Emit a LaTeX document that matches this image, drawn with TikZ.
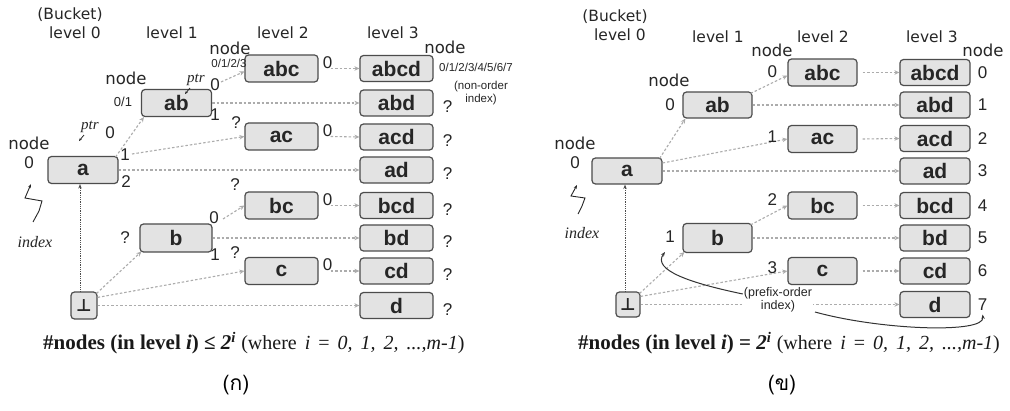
\documentclass[tikz,border=0pt]{standalone}
\usepackage{fontspec}
\setmainfont{Liberation Sans}
\newfontfamily\dv{DejaVu Sans}
\newfontfamily\srf{Liberation Serif}
\newfontfamily\thai[Script=Thai]{Loma}
\usetikzlibrary{arrows.meta,calc}
\tikzset{
  bx/.style={draw=black!70, line width=1.2pt, fill=gray!22, rounded corners=3.5pt, inner sep=0pt,
    font=\bfseries\fontsize{21}{21}\selectfont, text=black!85},
  lone/.style={bx, minimum width=70pt, minimum height=27pt},
  ltwo/.style={bx, minimum width=73pt, minimum height=27pt},
  lthree/.style={bx, minimum width=73pt, minimum height=26pt},
  rtwo/.style={bx, minimum width=69pt, minimum height=27pt},
  rthree/.style={bx, minimum width=70pt, minimum height=26pt},
  botbox/.style={bx, minimum width=26pt, minimum height=27pt, font=\dv\bfseries\fontsize{17}{17}\selectfont},
  lvl/.style={inner sep=0pt, font=\dv\fontsize{15.5}{16}\selectfont, text=black!85},
  ndl/.style={inner sep=0pt, font=\dv\fontsize{16.5}{17}\selectfont, text=black!85},
  num/.style={inner sep=0pt, font=\fontsize{17}{17}\selectfont, text=black!85},
  sml/.style={inner sep=0pt, font=\fontsize{11.5}{13}\selectfont, text=black!85},
  ptrl/.style={inner sep=0pt, font=\srf\itshape\fontsize{15}{15}\selectfont, text=black!85},
  arr/.style={draw=gray!65, line width=1.1pt, dash pattern=on 2.5pt off 2pt, -{Stealth[length=5pt,width=4.5pt]}},
  vline/.style={draw=gray!60!black, line width=0.8pt, densely dotted, -{Stealth[length=4.5pt,width=3.5pt]}},
  curv/.style={draw=black!80, line width=1pt, -{Stealth[length=4.5pt,width=3.5pt]}},
  formb/.style={inner sep=0pt, anchor=west, text=black!90},
}
\newcommand{\wsp}{\hspace{8pt}}
\newcommand{\wherepart}{{\mdseries\fontsize{20}{20}\selectfont (where\wsp\textit{i}\wsp=\wsp\textit{0,}\wsp\textit{1,}\wsp\textit{2,}\wsp\textit{...,m-1})}}
\begin{document}
\begin{tikzpicture}[x=1pt,y=1pt]
\useasboundingbox[fill=white] (0,0) rectangle (1010,410);

% ================= LEFT =================
\node[lone] (A-a) at (83,240) {a};
\node[lone] (A-ab) at (176.5,307) {ab};
\node[bx, minimum width=72pt, minimum height=28pt] (A-b) at (176,172) {b};
\node[botbox] (A-bot) at (84,104.5) {⊥};
\foreach \n/\y in {abc/341.5, ac/273.5, bc/204.5, c/139}
  \node[ltwo] (A-\n) at (281.5,\y) {\n};
\foreach \n/\y in {abcd/341.5, abd/307, acd/273, ad/240, bcd/204.5, bd/172, cd/139, d/104.5}
  \node[lthree] (A-\n) at (396.5,\y) {\n};

% connectors
\draw[vline] ([xshift=-4pt]A-bot.north) -- ([xshift=-4pt]A-bot.north |- A-a.south);
\draw[arr] ([xshift=-3pt,yshift=-1pt]A-a.north east) -- ([xshift=3pt]A-ab.south west);
\coordinate (A-s1) at (132,256);
\draw[arr] (A-s1) -- (A-ac.west);
\draw[arr] (A-a.east) -- (A-ad.west);
\coordinate (A-s2) at (221,328);
\draw[arr] (A-s2) -- ([yshift=-3pt]A-abc.west);
\draw[arr] (A-ab.east) -- (A-abd.west);
\coordinate (A-s3) at (223,191);
\draw[arr] (A-s3) -- (A-bc.west);
\draw[arr] (A-b.east) -- (A-bd.west);
\draw[arr] ([xshift=-1pt,yshift=-2pt]A-bot.north east) -- ([xshift=2pt,yshift=1pt]A-b.south west);
\draw[arr] ([yshift=-6pt]A-bot.north east) -- (A-c.west);
\draw[arr] (A-bot.east) -- (A-d.west);
\foreach \n/\m in {abc/abcd, ac/acd, bc/bcd, c/cd}
  \draw[arr] ([xshift=12pt]A-\n.east) -- (A-\m.west);

% labels
\node[lvl] (A-bk) at (70,395) {(Bucket)};
\node[lvl] (A-l0) at (75,377) {level 0};
\node[lvl] (A-l1) at (172,377) {level 1};
\node[lvl] (A-l2) at (283,377) {level 2};
\node[lvl] (A-l3) at (393,377) {level 3};
\node[ndl] (A-n0) at (29,267) {node};
\node[num] (A-n0v) at (29,247) {0};
\node[ndl] (A-n1) at (126,332) {node};
\node[sml, font=\fontsize{13}{13}\selectfont] (A-n1v) at (123,308) {0/1};
\node[ndl] (A-n2) at (230,362) {node};
\node[sml] (A-n2v) at (229,347) {0/1/2/3};
\node[ndl] (A-n3) at (445,363) {node};
\node[sml] (A-n3v) at (476,343) {0/1/2/3/4/5/6/7};
\node[sml, align=center] (A-noi) at (481,317) {(non-order\\index)};
\node[ptrl] (A-p1) at (196,330) {ptr};
\node[num] (A-p1z) at (215,325) {0};
\node[num] (A-p1o) at (215,295) {1};
\draw[black!85, line width=0.8pt, -{Stealth[length=3pt,width=2.5pt]}] ([xshift=-6pt,yshift=-2pt]A-p1.south) -- ++(-5,-6);
\node[ptrl] (A-p2) at (90,283) {ptr};
\node[num] (A-p2z) at (110,277) {0};
\draw[black!85, line width=0.8pt, -{Stealth[length=3pt,width=2.5pt]}] ([xshift=-6pt,yshift=-2pt]A-p2.south) -- ++(-5,-6);
\node[num] (A-a1) at (125,255) {1};
\node[num] (A-a2) at (126,228) {2};
\node[num] (A-b0) at (214,192) {0};
\node[num] (A-b1) at (215,155) {1};
\node[num] (A-bq) at (125,172) {?};
\node[num] (A-acq) at (236,287) {?};
\node[num] (A-bcq) at (235,225) {?};
\node[num] (A-cq) at (235,157) {?};
\foreach \n in {abc,ac,bc,c}
  \node[num] (A-z\n) at ([xshift=9pt,yshift=6pt]A-\n.east) {0};
\foreach \n in {abd,acd,ad,bcd,bd,cd,d}
  \node[num] (A-q\n) at ([xshift=14pt,yshift=-4pt]A-\n.east) {?};
\node[ptrl, font=\srf\itshape\fontsize{16}{16}\selectfont] (A-idx) at (35,168) {index};
\coordinate (A-i0) at (33,188);
\coordinate (A-i1) at (31,226);
\draw[black!85, line width=0.9pt, -{Stealth[length=4pt,width=3pt]}] (A-i0) -- (39,199) -- (42,209) -- (25,212) -- (A-i1);
\node[formb] (A-f) at (43,67) {\srf\bfseries\fontsize{21}{21}\selectfont \#nodes (in level \textit{i}) ≤ \textit{2\textsuperscript{i}}\ \wherepart};
\node[inner sep=0pt] (A-cap) at (236,25) {\thai\fontsize{21}{21}\selectfont (ก)};

% ================= RIGHT =================
\node[lone, minimum width=70pt, minimum height=26pt] (B-a) at (627,239) {a};
\node[lone, minimum width=69pt, minimum height=26pt] (B-ab) at (717.5,305) {ab};
\node[bx, minimum width=69pt, minimum height=29pt] (B-b) at (717.5,172) {b};
\node[botbox, minimum width=24pt, minimum height=25pt] (B-bot) at (628,105.5) {⊥};
\foreach \n/\y in {abc/337.5, ac/271, bc/204.5, c/139}
  \node[rtwo] (B-\n) at (822.5,\y) {\n};
\foreach \n/\y in {abcd/337.5, abd/305, acd/271.5, ad/239, bcd/204.5, bd/172, cd/139, d/105.5}
  \node[rthree] (B-\n) at (935,\y) {\n};

\draw[vline] ([xshift=-3pt]B-bot.north) -- ([xshift=-3pt]B-bot.north |- B-a.south);
\draw[arr] ([xshift=-3pt,yshift=-1pt]B-a.north east) -- ([xshift=3pt]B-ab.south west);
\draw[arr] ([yshift=8pt]B-a.east) -- (B-ac.west);
\draw[arr] (B-a.east) -- (B-ad.west);
\draw[arr] ([xshift=-2pt,yshift=-2pt]B-ab.north east) -- ([yshift=-3pt]B-abc.west);
\draw[arr] (B-ab.east) -- (B-abd.west);
\draw[arr] ([xshift=-2pt,yshift=-2pt]B-b.north east) -- (B-bc.west);
\draw[arr] (B-b.east) -- (B-bd.west);
\draw[arr] ([xshift=-1pt,yshift=-2pt]B-bot.north east) -- ([xshift=2pt,yshift=1pt]B-b.south west);
\draw[arr] ([yshift=-5pt]B-bot.north east) -- (B-c.west);
\draw[arr] (B-bot.east) -- (B-d.west);
\foreach \n/\m in {abc/abcd, ac/acd, bc/bcd, c/cd}
  \draw[arr] ([xshift=5pt]B-\n.east) -- (B-\m.west);

\node[lvl] (B-bk) at (615,393) {(Bucket)};
\node[lvl] (B-l0) at (620,375) {level 0};
\node[lvl] (B-l1) at (718,373) {level 1};
\node[lvl] (B-l2) at (823,373) {level 2};
\node[lvl] (B-l3) at (932,373) {level 3};
\node[ndl] (B-n0) at (575,267) {node};
\node[num] (B-n0v) at (575,247) {0};
\node[ndl] (B-n1) at (669,330) {node};
\node[num] (B-n1v) at (670,305) {0};
\node[num] (B-bv) at (670,173) {1};
\node[ndl] (B-n2) at (772,360) {node};
\node[ndl] (B-n3) at (983,360) {node};
\foreach \n/\k/\dy in {abc/0/1, ac/1/2, bc/2/6, c/3/3}
  \node[num] (B-k\n) at ([xshift=-15pt,yshift=\dy pt]B-\n.west) {\k};
\foreach \n/\k in {abcd/0, abd/1, acd/2, ad/3, bcd/4, bd/5, cd/6, d/7}
  \node[num] (B-r\n) at ([xshift=12pt]B-\n.east) {\k};
\node[ptrl, font=\srf\itshape\fontsize{16}{16}\selectfont] (B-idx) at (582,177) {index};
\coordinate (B-i0) at (578,196);
\coordinate (B-i1) at (577,225);
\draw[black!85, line width=0.9pt, -{Stealth[length=4pt,width=3pt]}] (B-i0) -- (582,204) -- (585,212) -- (571,214) -- (B-i1);
\node[sml, fill=white, align=center, inner sep=1pt, font=\fontsize{12.5}{13}\selectfont] (B-po) at (778,110) {(prefix-order\\index)};
\coordinate (B-c1) at (665,158);
\draw[curv] ([yshift=6pt]B-po.west) .. controls (690,127) and (652,140) .. (B-c1);
\coordinate (B-c2s) at (815,98);
\coordinate (B-c2) at ([yshift=-4pt]B-rd.south);
\draw[curv] (B-c2s) .. controls (880,80) and (985,76) .. (B-c2);
\node[formb] (B-f) at (578,67) {\srf\bfseries\fontsize{21}{21}\selectfont \#nodes (in level \textit{i}) = \textit{2\textsuperscript{i}}\ \wherepart};
\node[inner sep=0pt] (B-cap) at (782,25) {\thai\fontsize{21}{21}\selectfont (ข)};
\end{tikzpicture}
\end{document}
